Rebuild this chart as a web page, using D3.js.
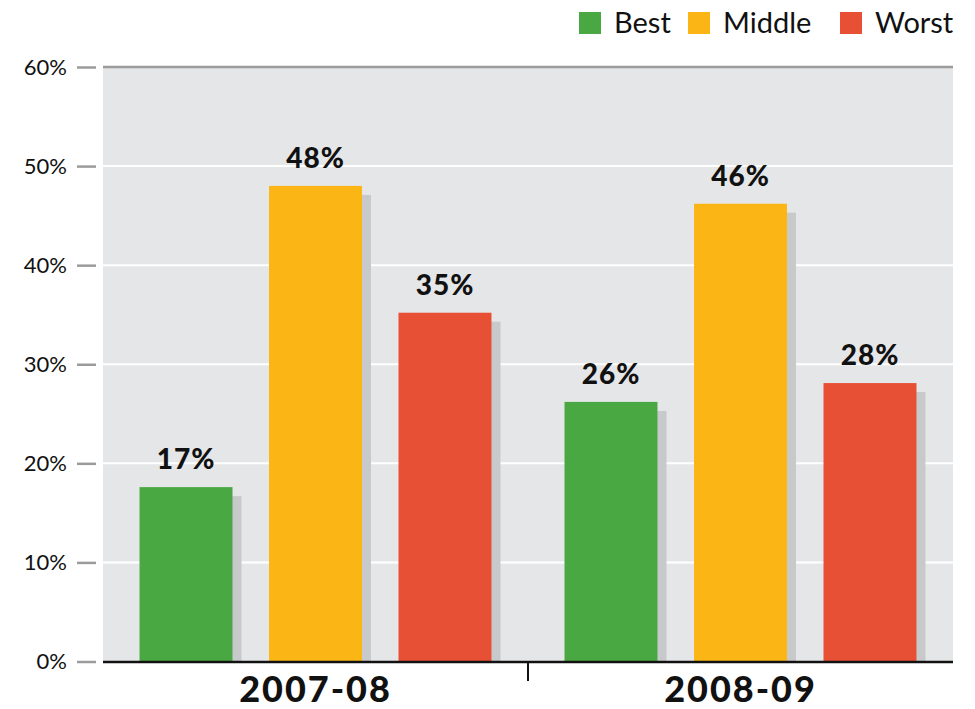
<!DOCTYPE html>
<html>
<head>
<meta charset="utf-8">
<script src="https://cdn.jsdelivr.net/npm/d3@7"></script>
<style>
body { margin: 0; background: #fff; }
svg { display: block; font-family: Lato, "Open Sans", sans-serif; }
</style>
</head>
<body>
<svg id="chart" width="975" height="709"></svg>
<script>
var years = ['2007-08', '2008-09']
var groups = ['Best', 'Middle', 'Worst']
var best = [17.6, 26.2]
var middle = [48.0, 46.2]
var worst = [35.2, 28.1]
var labels = [['17%', '48%', '35%'], ['26%', '46%', '28%']]
var yTicks = [0, 10, 20, 30, 40, 50, 60]
var colors = ['#4aa843', '#fbb616', '#e85035']

var svg = d3.select('#chart')
// note: "top" is taken by window.top, so use other names
var pLeft = 103, pRight = 953, pTop = 67, pBottom = 661.5

var x0 = d3.scaleBand().domain(years).range([pLeft, pRight])
var x1 = d3.scaleBand().domain(groups).range([0, x0.bandwidth()]).paddingInner(0.282).paddingOuter(0.282)
var y = d3.scaleLinear().domain([0, 60]).range([pBottom, pTop])
var color = d3.scaleOrdinal().domain(groups).range(colors)

var rows = years.map(function(yr, i) {
	return {year: yr, values: [
		{key: 'Best', v: best[i], label: labels[i][0]},
		{key: 'Middle', v: middle[i], label: labels[i][1]},
		{key: 'Worst', v: worst[i], label: labels[i][2]}
	]}
})

// background
svg.append('rect').attr('x', pLeft).attr('y', pTop).attr('width', pRight - pLeft).attr('height', pBottom - pTop).attr('fill', '#e5e6e8')

// gridlines
svg.append('g').selectAll('line').data(yTicks.filter(function(d) { return d > 0 })).join('line')
	.attr('x1', pLeft).attr('x2', pRight)
	.attr('y1', function(d) { return y(d) }).attr('y2', function(d) { return y(d) })
	.attr('stroke', function(d) { return d == 60 ? '#9b9b9b' : '#fff' })
	.attr('stroke-width', function(d) { return d == 60 ? 2.5 : 2 })

// y axis
var yAxis = d3.axisLeft(y).tickValues(yTicks).tickFormat(function(d) { return d + '%' }).tickSize(19).tickPadding(10)
var ya = svg.append('g').attr('transform', 'translate(' + (pLeft - 7) + ',0)').call(yAxis)
ya.select('.domain').remove()
ya.selectAll('line').attr('stroke', '#9b9b9b').attr('stroke-width', 2.5)
ya.selectAll('text').attr('font-size', 22).attr('font-weight', 400).attr('fill', '#111').attr('font-family', 'Lato')

// bars
var g = svg.append('g').selectAll('g').data(rows).join('g')
	.attr('transform', function(d) { return 'translate(' + x0(d.year) + ',0)' })

var off = 9
g.selectAll('.shadow').data(function(d) { return d.values }).join('rect')
	.attr('class', 'shadow')
	.attr('x', function(d) { return x1(d.key) + off })
	.attr('y', function(d) { return y(d.v) + off })
	.attr('width', x1.bandwidth())
	.attr('height', function(d) { return pBottom - y(d.v) - off })
	.attr('fill', '#c8c9cb')

g.selectAll('.bar').data(function(d) { return d.values }).join('rect')
	.attr('class', 'bar')
	.attr('x', function(d) { return x1(d.key) })
	.attr('y', function(d) { return y(d.v) })
	.attr('width', x1.bandwidth())
	.attr('height', function(d) { return pBottom - y(d.v) })
	.attr('fill', function(d) { return color(d.key) })

g.selectAll('.lbl').data(function(d) { return d.values }).join('text')
	.attr('class', 'lbl')
	.attr('x', function(d) { return x1(d.key) + x1.bandwidth() / 2 })
	.attr('y', function(d) { return y(d.v) - 18 })
	.attr('text-anchor', 'middle')
	.attr('font-size', 28).attr('font-weight', 900).attr('letter-spacing', 1)
	.attr('fill', '#111')
	.text(function(d) { return d.label })

// x axis
svg.append('line').attr('x1', pLeft).attr('x2', pRight).attr('y1', pBottom + 0.5).attr('y2', pBottom + 0.5).attr('stroke', '#111').attr('stroke-width', 2.5)
svg.append('line').attr('x1', x0('2008-09')).attr('x2', x0('2008-09')).attr('y1', pBottom).attr('y2', 681).attr('stroke', '#111').attr('stroke-width', 2)
svg.append('g').selectAll('text').data(years).join('text')
	.attr('x', function(d) { return x0(d) + x0.bandwidth() / 2 })
	.attr('y', 702)
	.attr('text-anchor', 'middle')
	.attr('font-size', 36).attr('font-weight', 900).attr('letter-spacing', 2)
	.attr('fill', '#111')
	.text(function(d) { return d })

// legend
var legX = [579, 688, 840]
var leg = svg.append('g').selectAll('g').data(groups).join('g')
	.attr('transform', function(d, i) { return 'translate(' + legX[i] + ',12)' })
leg.append('rect').attr('width', 22).attr('height', 22).attr('fill', function(d) { return color(d) })
leg.append('text').attr('x', 35).attr('y', 21).attr('font-size', 29).attr('fill', '#111').text(function(d) { return d })
</script>
</body>
</html>
